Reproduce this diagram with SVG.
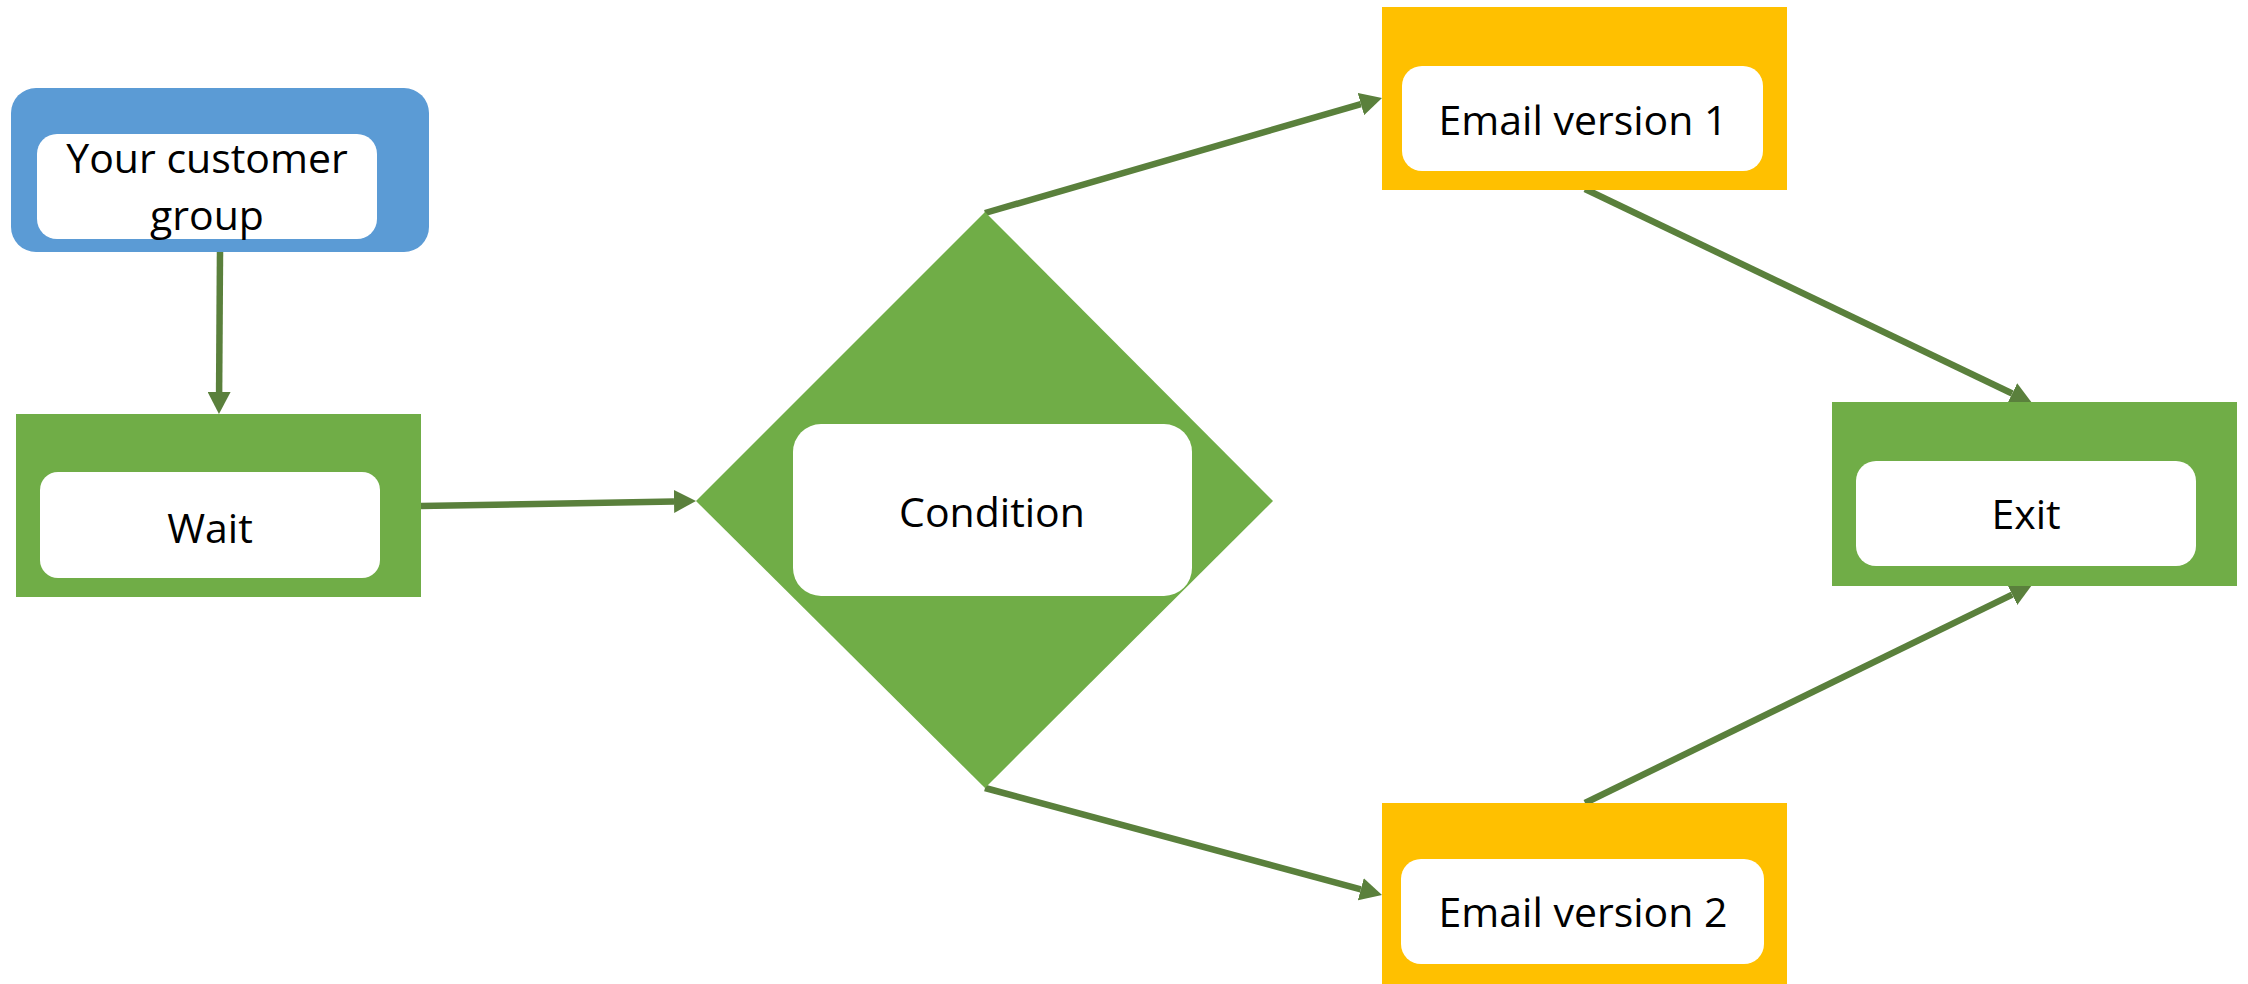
<svg xmlns="http://www.w3.org/2000/svg" width="2248" height="984" viewBox="0 0 2248 984">
  <style>
    .blue { fill: #5B9BD5; }
    .green { fill: #70AD47; }
    .gold { fill: #FFC000; }
    .card { fill: #FFFFFF; }
    .label { font-family: "Open Sans", "Noto Sans", sans-serif; font-size: 41px; fill: #000000; text-anchor: middle; }
    .link { fill: none; stroke: #5A803C; stroke-width: 6.5; marker-end: url(#head); }
  </style>
  <defs>
    <marker id="head" markerUnits="userSpaceOnUse" markerWidth="22" markerHeight="23" refX="0" refY="11.5" orient="auto" viewBox="0 0 22 23">
      <path d="M0,0 L22,11.5 L0,23 Z" fill="#5A803C"/>
    </marker>
  </defs>
  <rect width="2248" height="984" fill="#FFFFFF"/>

  <!-- connectors sit under the nodes -->
  <g id="connectors">
    <line class="link" x1="220" y1="252" x2="219.1" y2="392"/>
    <line class="link" x1="421" y1="506" x2="674" y2="501.4"/>
    <line class="link" x1="985" y1="213" x2="1360.9" y2="104.1"/>
    <line class="link" x1="985" y1="788" x2="1360.8" y2="889.3"/>
    <line class="link" x1="1585" y1="189" x2="2012.2" y2="393.5"/>
    <line class="link" x1="1585" y1="803" x2="2012.2" y2="594.6"/>
  </g>

  <g id="customer-group">
    <rect class="blue" x="11" y="88" width="418" height="164" rx="25"/>
    <rect class="card" x="37" y="134" width="340" height="105" rx="20"/>
    <text class="label" x="207" y="173">Your customer</text>
    <text class="label" x="207" y="230">group</text>
  </g>

  <g id="wait">
    <rect class="green" x="16" y="414" width="405" height="183"/>
    <rect class="card" x="40" y="472" width="340" height="106" rx="18"/>
    <text class="label" x="210" y="543">Wait</text>
  </g>

  <g id="condition">
    <polygon class="green" points="985,212 1273,501 985,788 696,501"/>
    <rect class="card" x="793" y="424" width="399" height="172" rx="28"/>
    <text class="label" x="992" y="527">Condition</text>
  </g>

  <g id="email-1">
    <rect class="gold" x="1382" y="7" width="405" height="183"/>
    <rect class="card" x="1402" y="66" width="361" height="105" rx="20"/>
    <text class="label" x="1583" y="135">Email version 1</text>
  </g>

  <g id="email-2">
    <rect class="gold" x="1382" y="803" width="405" height="181"/>
    <rect class="card" x="1401" y="859" width="363" height="105" rx="20"/>
    <text class="label" x="1583" y="927">Email version 2</text>
  </g>

  <g id="exit">
    <rect class="green" x="1832" y="402" width="405" height="184"/>
    <rect class="card" x="1856" y="461" width="340" height="105" rx="20"/>
    <text class="label" x="2026" y="529">Exit</text>
  </g>
</svg>
